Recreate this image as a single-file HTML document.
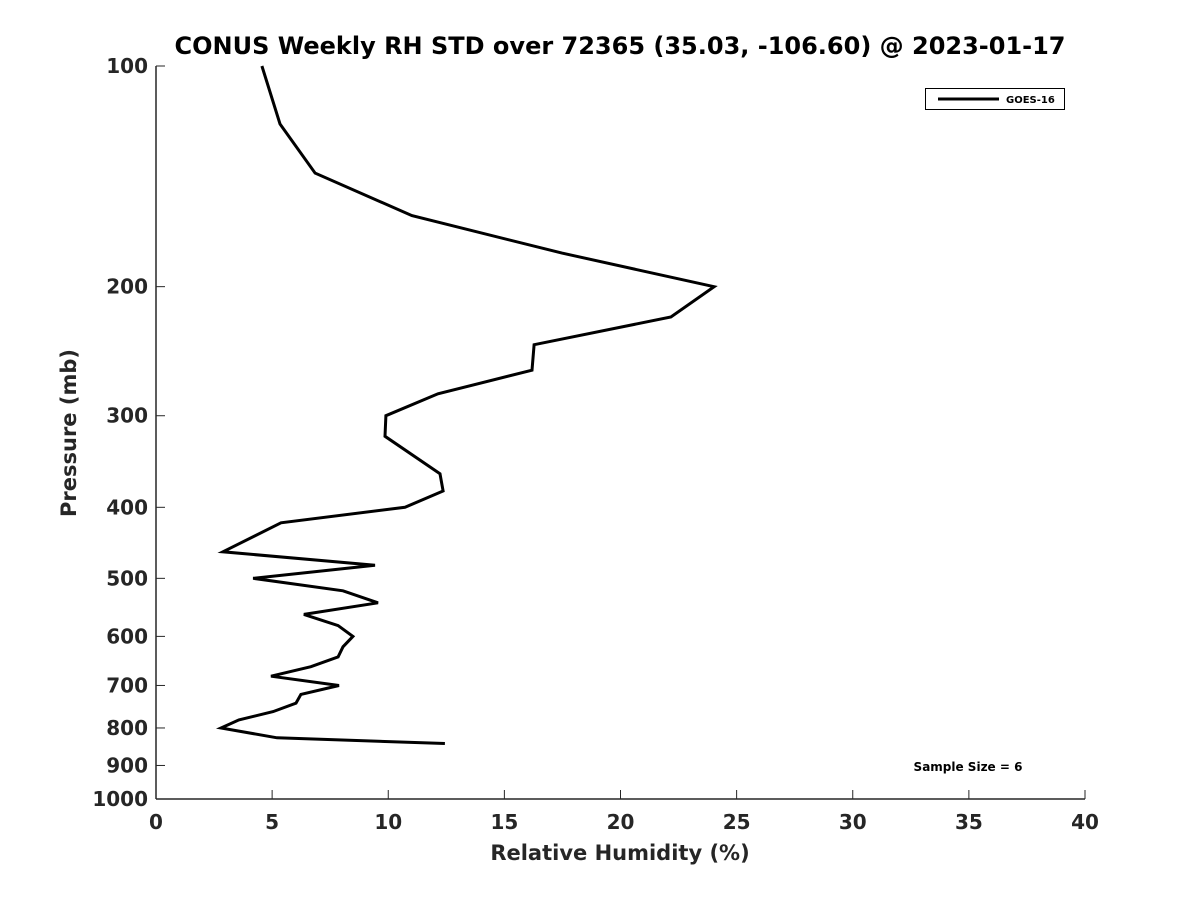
<!DOCTYPE html>
<html><head><meta charset="utf-8"><style>
body{margin:0;background:#fff;}
svg text{font-family:"DejaVu Sans","Liberation Sans",sans-serif;font-weight:bold;}
</style></head><body>
<svg width="1200" height="900">
<rect width="1200" height="900" fill="#fff"/>
<text x="620" y="54" font-size="24" text-anchor="middle" fill="#000">CONUS Weekly RH STD over 72365 (35.03, -106.60) @ 2023-01-17</text>
<g id="axes"></g>
<g id="series"></g>
<text x="620" y="860" font-size="21" text-anchor="middle" fill="#262626">Relative Humidity (%)</text>
<text transform="translate(76,433) rotate(-90)" font-size="21" text-anchor="middle" fill="#262626">Pressure (mb)</text>
<g>
<rect x="925.5" y="88.5" width="139" height="21" fill="#fff" stroke="#000"/>
<line x1="938" y1="99" x2="999" y2="99" stroke="#000" stroke-width="3"/>
<text x="1006" y="103" font-size="10" fill="#000">GOES-16</text>
</g>
<text x="968" y="771" font-size="12" text-anchor="middle" fill="#000">Sample Size = 6</text>
</svg>
<script>
const rhValues=[4.56,5.34,6.85,11.02,17.48,24.03,22.17,16.28,16.19,12.14,9.90,9.86,12.23,12.36,10.72,5.38,2.88,9.43,4.18,8.05,9.56,6.37,7.84,8.48,8.05,7.84,6.67,4.95,7.88,6.24,6.03,5.04,3.57,2.80,5.21,12.44];
const pressures=[100,120,140,160,180,200,220,240,260,280,300,320,360,380,400,420,460,480,500,520,540,560,580,600,620,640,660,680,700,720,740,760,780,800,825,840];
const xTicks=[0,5,10,15,20,25,30,35,40];
const yTicks=[100,200,300,400,500,600,700,800,900,1000];
const L=156,R=1085,T=66,B=799;
const xs=v=>L+(v-0)/(40-0)*(R-L);
const ys=p=>T+Math.log10(p/100)*(B-T);
const NS='http://www.w3.org/2000/svg';
const ax=document.getElementById('axes');
function mk(t,a,parent){const e=document.createElementNS(NS,t);for(const k in a)e.setAttribute(k,a[k]);parent.appendChild(e);return e;}
let e=mk('line',{x1:L,y1:T,x2:L,y2:B,stroke:'#262626','stroke-width':1.5},ax);


e=mk('line',{x1:L,y1:B,x2:R,y2:B,stroke:'#262626','stroke-width':1.5},ax);


xTicks.forEach(v=>{
 const x=xs(v);
 let t=mk('line',{x1:x,y1:B,x2:x,y2:B-9,stroke:'#262626','stroke-width':1},ax);
 
 
 let l=mk('text',{x:x,y:829,'font-size':20,'text-anchor':'middle',fill:'#262626'},ax);
 l.textContent=v;
 
 
});
yTicks.forEach(p=>{
 const y=ys(p);
 let t=mk('line',{x1:L,y1:y,x2:L+9,y2:y,stroke:'#262626','stroke-width':1},ax);
 
 
 let l=mk('text',{x:148,y:y+7,'font-size':20,'text-anchor':'end',fill:'#262626'},ax);
 l.textContent=p;
 
 
});
const pts=rhValues.map((v,i)=>xs(v).toFixed(1)+','+ys(pressures[i]).toFixed(1)).join(' ');
const pl=mk('polyline',{points:pts,fill:'none',stroke:'#000','stroke-width':3,'stroke-linejoin':'miter'},document.getElementById('series'));


</script>
</body></html>
